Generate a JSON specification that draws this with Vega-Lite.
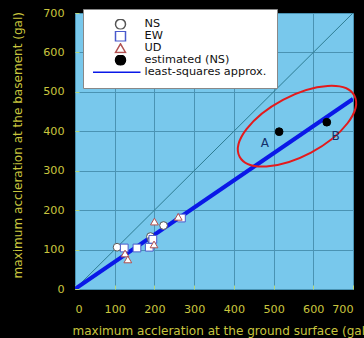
{
  "$schema": "https://vega.github.io/schema/vega-lite/v6.json",
  "autosize": {"type": "none"},
  "width": 278,
  "height": 276,
  "padding": {"left": 75, "top": 13, "right": 11, "bottom": 49},
  "background": "#000000",
  "config": {
    "view": {"fill": "#78c8ec", "stroke": null},
    "axis": {
      "labelFont": "DejaVu Sans",
      "titleFont": "DejaVu Sans",
      "labelColor": "#c9c53e",
      "titleColor": "#c9c53e",
      "labelFontSize": 11.2,
      "titleFontSize": 12.05,
      "titleFontWeight": "normal",
      "gridColor": "#4a93b3",
      "gridOpacity": 1,
      "gridWidth": 1,
      "domain": false,
      "tickColor": "#b8d878",
      "tickSize": -4,
      "tickWidth": 1,
      "labelOverlap": false
    }
  },
  "datasets": {
    "points": [
      {"series": "NS", "gx": 106, "by": 106},
      {"series": "NS", "gx": 190, "by": 133},
      {"series": "NS", "gx": 193, "by": 124},
      {"series": "NS", "gx": 223, "by": 161},
      {"series": "EW", "gx": 124, "by": 104},
      {"series": "EW", "gx": 156, "by": 104},
      {"series": "EW", "gx": 187, "by": 106},
      {"series": "EW", "gx": 196, "by": 126},
      {"series": "EW", "gx": 268, "by": 180},
      {"series": "UD", "gx": 126, "by": 90},
      {"series": "UD", "gx": 133, "by": 75},
      {"series": "UD", "gx": 199, "by": 113},
      {"series": "UD", "gx": 200, "by": 171},
      {"series": "UD", "gx": 260, "by": 183},
      {"series": "estimated (NS)", "gx": 514, "by": 399},
      {"series": "estimated (NS)", "gx": 634, "by": 423}
    ],
    "fit": [{"gx": 0, "by": 0}, {"gx": 700, "by": 482}],
    "diag": [{"gx": 0, "by": 0}, {"gx": 700, "by": 700}],
    "labels": [{"label": "A", "gx": 478, "by": 370}, {"label": "B", "gx": 656, "by": 388}],
    "ellipse": [{"gx": 559, "by": 413}]
  },
  "encoding": {
    "x": {"field": "gx", "type": "quantitative", "scale": {"domain": [0, 700], "nice": false},
      "axis": {"values": [0, 100, 200, 300, 400, 500, 600, 700], "labelPadding": 18,
        "title": "maximum accleration at the ground surface (gal)",
        "titleAnchor": "start", "titleAlign": "left", "titleX": -3, "titleY": 41, "titleBaseline": "middle"}},
    "y": {"field": "by", "type": "quantitative", "scale": {"domain": [0, 700], "nice": false},
      "axis": {"values": [0, 100, 200, 300, 400, 500, 600, 700], "labelPadding": 15,
        "title": "maximum accleration at the basement (gal)",
        "titleAngle": 270, "titleAlign": "left", "titleBaseline": "middle", "titleX": -58, "titleY": 265}}
  },
  "layer": [
    {
      "data": {"name": "diag"},
      "mark": {"type": "line", "color": "#2e7c92", "strokeWidth": 1, "clip": true}
    },
    {
      "data": {"name": "fit"},
      "mark": {"type": "line", "color": "#0a18e8", "strokeWidth": 4, "clip": true}
    },
    {
      "data": {"name": "points"},
      "mark": {"type": "point", "size": 60, "strokeWidth": 1, "opacity": 1},
      "encoding": {
        "shape": {
          "field": "series", "type": "nominal",
          "scale": {"domain": ["NS", "EW", "UD", "estimated (NS)", "least-squares approx."],
            "range": ["circle", "square", "triangle-up", "circle", "M -6,0 L 4,0"]},
          "legend": {
            "title": null, "orient": "none", "legendX": 8, "legendY": -4,
            "fillColor": "white", "strokeColor": "#888888", "padding": 10,
            "symbolSize": 100, "symbolOffset": 21.5, "labelOffset": 18,
            "labelFont": "DejaVu Sans", "labelFontSize": 11.3, "labelColor": "#111111",
            "clipHeight": 10.3, "rowPadding": 0, "labelLimit": 300,
            "encode": {
              "symbols": {"update": {"strokeWidth": {"signal": "datum.value === 'least-squares approx.' ? 4 : 1"}}},
              "labels": {"update": {"fill": {"signal": "datum.value === 'EW' ? '#2b3bd0' : datum.value === 'UD' ? '#a33a3a' : '#111111'"}}}
            }
          }
        },
        "fill": {
          "field": "series", "type": "nominal",
          "scale": {"domain": ["NS", "EW", "UD", "estimated (NS)", "least-squares approx."],
            "range": ["#ffffff", "#ffffff", "#ffffff", "#000000", "transparent"]}
        },
        "stroke": {
          "field": "series", "type": "nominal",
          "scale": {"domain": ["NS", "EW", "UD", "estimated (NS)", "least-squares approx."],
            "range": ["#555555", "#4a5acc", "#b05050", "#000000", "#0a18e8"]}
        }
      }
    },
    {
      "data": {"name": "ellipse"},
      "mark": {"type": "point", "shape": "M -1,0 A 1,0.46 0 1,1 1,0 A 1,0.46 0 1,1 -1,0 Z",
        "size": 16900, "angle": 332, "filled": false, "fill": "transparent",
        "stroke": "#e41a1c", "strokeWidth": 2, "opacity": 1, "clip": false}
    },
    {
      "data": {"name": "labels"},
      "mark": {"type": "text", "font": "DejaVu Sans", "fontSize": 12, "color": "#12306a"},
      "encoding": {
        "text": {"field": "label"}
      }
    }
  ]
}
